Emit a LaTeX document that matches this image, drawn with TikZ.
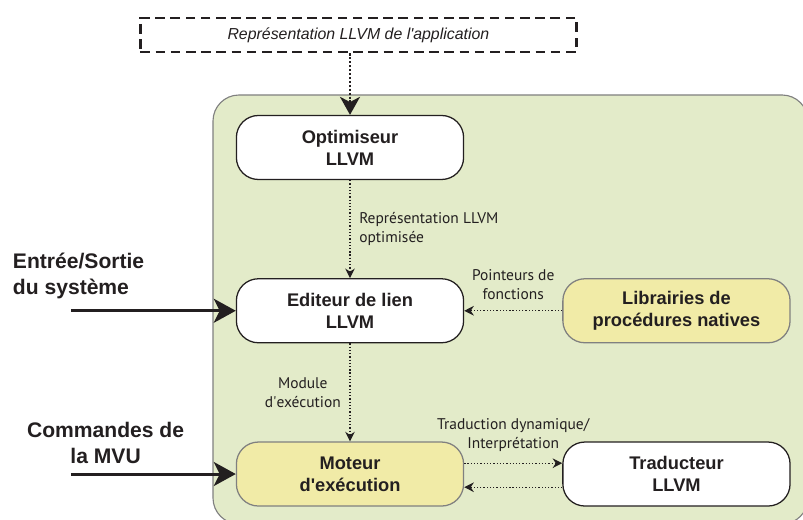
\documentclass[tikz,border=0pt]{standalone}
\usepackage{fontspec}
\setmainfont{Liberation Sans}
\newfontfamily\myriad{PT Sans}
\usetikzlibrary{arrows.meta,positioning}
\definecolor{cadre}{RGB}{227,235,201}
\definecolor{jaune}{RGB}{241,235,167}
\definecolor{encre}{RGB}{35,31,32}

\begin{document}
\begin{tikzpicture}[
  >=Stealth,
  bloc/.style={draw=encre,fill=white,rounded corners=5.5mm,line width=0.9pt,
    minimum width=5.68cm,minimum height=1.6cm,align=center,text=encre,
    font=\bfseries\fontsize{13}{15.5}\selectfont},
  natif/.style={bloc,fill=jaune,draw=black!50},
  source/.style={draw=encre,line width=1.8pt,dash pattern=on 2.4mm off 1.4mm,
    minimum width=10.9cm,minimum height=0.85cm,text=encre,
    font=\itshape\fontsize{11.3}{13}\selectfont},
  externe/.style={text=encre,font=\bfseries\fontsize{15}{18}\selectfont},
  note/.style={text=encre,align=center,font=\myriad\fontsize{11}{13.5}\selectfont},
  flux/.style={encre,line width=0.8pt,dash pattern=on 0.9pt off 1.4pt,
    -{Stealth[length=2.4mm,width=2.4mm]}},
  entree/.style={encre,line width=2.1pt,-{Stealth[length=5.5mm,width=6mm,inset=1.5mm]}},
  node distance=2.45cm,
]
  \useasboundingbox (0,0) rectangle (20.075,13);
  % fond vert (coupe a droite et en bas)
  \begin{scope}
    \clip (0,0) rectangle (20.075,13);
    \draw[fill=cadre,draw=black!50,line width=0.8pt,rounded corners=6.5mm]
      (5.325,10.625) rectangle (20.2,-0.1);
  \end{scope}

  \node[source] (appli) at (8.96,12.125) {Représentation LLVM de l\textquotesingle application};

  \node[bloc] (optim) at (8.75,9.3125) {Optimiseur\\LLVM};
  \node[bloc,below=of optim] (lien) {Editeur de lien\\LLVM};
  \node[natif,below=of lien] (moteur) {Moteur\\d\textquotesingle exécution};
  \node[natif,right=of lien] (libs) {Librairies de\\procédures natives};
  \node[bloc,right=of moteur] (trad) {Traducteur\\LLVM};

  \node[externe,align=left,anchor=west] (es) at (0.2,6.1) {Entrée/Sortie\\du système};
  \node[externe,align=center] (cmd) at (2.64,1.925) {Commandes de\\la MVU};
  \coordinate[left=4.125cm of lien.west] (es-pt);
  \coordinate[left=4.125cm of moteur.west] (cmd-pt);

  \draw[encre,line width=1.8pt,dash pattern=on 1.6pt off 1.2pt,
    -{Stealth[length=4.5mm,width=5mm,inset=1.3mm]}]
    (appli.south -| optim.north) -- (optim.north);
  \draw[flux] (optim) -- node[note,right=1mm,align=left] {Représentation LLVM\\optimisée} (lien);
  \draw[flux] (libs) -- node[note,above=1.5mm] {Pointeurs de\\fonctions} (lien);
  \draw[flux] (lien) -- node[note,left=1mm] {Module\\d\textquotesingle exécution} (moteur);
  \draw[flux] ([yshift=2.7mm]moteur.east) -- node[note,above=1.5mm] {Traduction dynamique/\\Interprétation} ([yshift=2.7mm]trad.west);
  \draw[flux] ([yshift=-3.3mm]trad.west) -- ([yshift=-3.3mm]moteur.east);

  \draw[entree] (es-pt) -- (lien.west);
  \draw[entree] (cmd-pt) -- (moteur.west);
\end{tikzpicture}
\end{document}
